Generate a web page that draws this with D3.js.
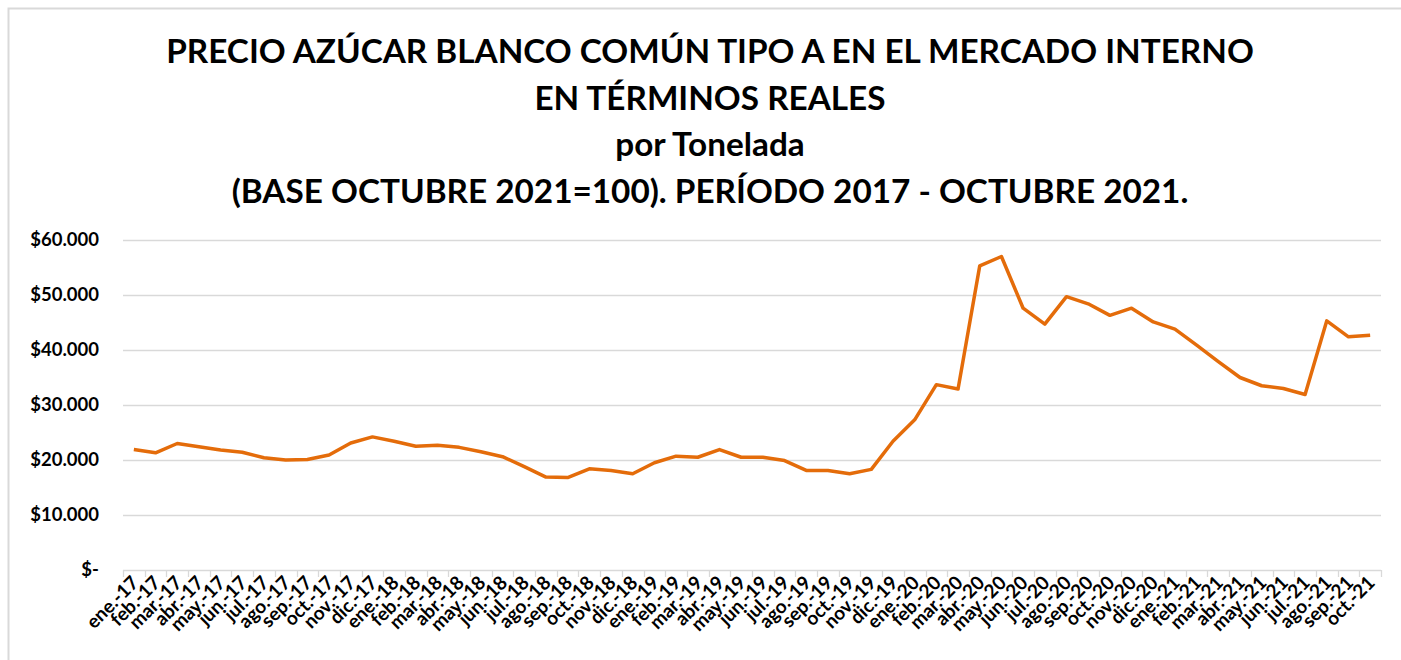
<!DOCTYPE html>
<html>
<head>
<meta charset="utf-8">
<script src="https://cdn.jsdelivr.net/npm/d3@7"></script>
<style>
    body { margin: 0; background: #fff; }
    text { font-family: Lato, "Open Sans", sans-serif; font-weight: bold; fill: #000; }
</style>
</head>
<body>
<div class="chart"></div>
<script>

// Month labels, ene-17 .. oct-21
var months = ["ene.", "feb.", "mar.", "abr.", "may.", "jun.", "jul.", "ago.", "sep.", "oct.", "nov.", "dic."];
var years = ["17", "18", "19", "20", "21"];

var categories = [];
years.forEach(function(y) {
    months.forEach(function(m) {
        categories.push(m + "-" + y);
    });
});
categories = categories.slice(0, 58);

var prices = [
    21900, 21300, 23000, 22400, 21800, 21400, 20400, 20000, 20100, 20900, 23100, 24200,
    23400, 22500, 22700, 22300, 21500, 20600, 18800, 16900, 16800, 18400, 18100, 17500,
    19500, 20700, 20500, 21900, 20500, 20500, 19900, 18100, 18100, 17500, 18300, 23400,
    27300, 33700, 32900, 55300, 57000, 47600, 44700, 49700, 48400, 46300, 47600, 45100,
    43800, 40900, 37900, 35000, 33500, 33000, 31900, 45300, 42400, 42700
];

var yTicks = [0, 10000, 20000, 30000, 40000, 50000, 60000];

var titleLines = [
    "PRECIO AZÚCAR BLANCO COMÚN TIPO A EN EL MERCADO INTERNO",
    "EN TÉRMINOS REALES",
    "por Tonelada",
    "(BASE OCTUBRE 2021=100). PERÍODO 2017 - OCTUBRE 2021."
];

var width = 1401, height = 660;
var margin = { top: 240, right: 20, bottom: 90, left: 123 };

var svg = d3.select(".chart")
    .append("svg")
        .attr("width", width)
        .attr("height", height);

// Chart area border (only top and left are visible)
svg.append("path")
    .attr("d", "M8.5," + height + "V8.5H" + width)
    .attr("fill", "none")
    .attr("stroke", "#d9d9d9")
    .attr("stroke-width", 2);

// Title
svg.selectAll(".title")
    .data(titleLines)
    .enter().append("text")
        .attr("class", "title")
        .attr("x", 710)
        .attr("y", function(d, i) { return 63 + i * 46.5; })
        .attr("text-anchor", "middle")
        .style("font-size", "33.3px")
        .text(function(d) { return d; });

var x = d3.scaleBand()
    .range([margin.left, 1381])
    .domain(categories);

var y = d3.scaleLinear()
    .range([570, 240])
    .domain([0, 60000]);

// Gridlines
svg.append("g")
    .selectAll("line")
    .data(yTicks.slice(1))
    .enter().append("line")
        .attr("x1", margin.left)
        .attr("x2", 1381)
        .attr("y1", function(d) { return Math.round(y(d)) + 0.5; })
        .attr("y2", function(d) { return Math.round(y(d)) + 0.5; })
        .attr("stroke", "#d9d9d9")
        .attr("stroke-width", 1.3);

// Y labels
var formatPeso = function(d) {
    if (d === 0) return "$-";
    return "$" + d3.format(",")(d).replace(/,/g, ".");
};

svg.append("g")
    .selectAll("text")
    .data(yTicks)
    .enter().append("text")
        .attr("x", 99)
        .attr("y", function(d) { return y(d); })
        .attr("dy", "0.35em")
        .attr("text-anchor", "end")
        .style("font-size", "18.5px")
        .text(formatPeso);

// X axis: baseline with ticks at the band edges
var edges = categories.map(function(c) { return x(c); }).concat([1381]);

var xAxis = svg.append("g").attr("class", "xAxis");

xAxis.append("line")
    .attr("x1", margin.left)
    .attr("x2", 1381)
    .attr("y1", 570.5)
    .attr("y2", 570.5)
    .attr("stroke", "#d9d9d9")
    .attr("stroke-width", 1.3);

xAxis.selectAll(".tick")
    .data(edges)
    .enter().append("line")
        .attr("class", "tick")
        .attr("x1", function(d) { return Math.round(d) + 0.5; })
        .attr("x2", function(d) { return Math.round(d) + 0.5; })
        .attr("y1", 570)
        .attr("y2", 577)
        .attr("stroke", "#d9d9d9")
        .attr("stroke-width", 1.3);

xAxis.selectAll(".xlabel")
    .data(categories)
    .enter().append("text")
        .attr("class", "xlabel")
        .attr("text-anchor", "end")
        .attr("transform", function(d) {
            return "translate(" + (x(d) + x.bandwidth() / 2 + 6) + ",584) rotate(-45)";
        })
        .style("font-size", "19px")
        .text(function(d) { return d; });

// Price line
var line = d3.line()
    .x(function(d, i) { return x(categories[i]) + x.bandwidth() / 2; })
    .y(function(d) { return y(d); });

svg.append("path")
    .datum(prices)
    .attr("d", line)
    .attr("fill", "none")
    .attr("stroke", "#E46C0A")
    .attr("stroke-width", 3.5)
    .attr("stroke-linejoin", "round");

</script>
</body>
</html>
